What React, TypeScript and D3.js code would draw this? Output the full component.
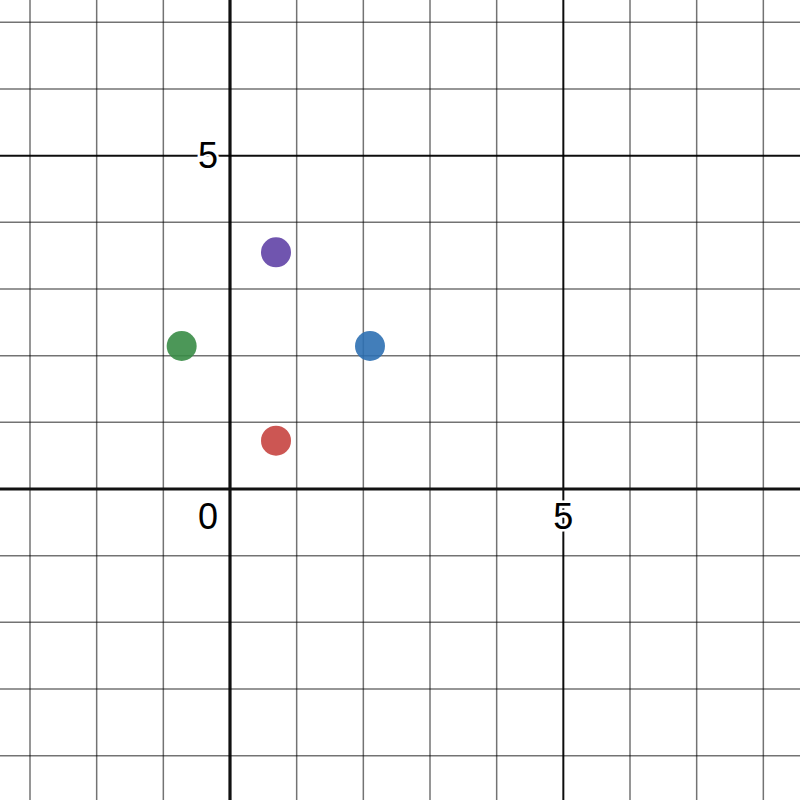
import React from 'react';
import * as d3 from 'd3';

// points
const pointNames = ['purple', 'green', 'blue', 'red'];
const pointX = [0.69, -0.725, 2.1, 0.69];
const pointY = [3.55, 2.145, 2.145, 0.725];
const pointColors = ['#6042a6', '#388c46', '#2d70b3', '#c74440'];

// grid and labels
const gridX = d3.range(-3, 9);
const gridY = d3.range(-4, 8);
const xLabels = [5];
const yLabels = [5];

const W = 800;
const H = 800;

export default function App() {
  const x = d3.scaleLinear().domain([-3.45, 8.55]).range([0, W]);
  const y = d3.scaleLinear().domain([-4.665, 7.335]).range([H, 0]);

  const lineStyle = (v: number) =>
    v === 0
      ? { stroke: '#111', strokeWidth: 3.2, strokeOpacity: 1 }
      : v % 5 === 0
      ? { stroke: '#000', strokeWidth: 2, strokeOpacity: 0.95 }
      : { stroke: '#000', strokeWidth: 1.5, strokeOpacity: 0.55 };

  const labelProps = {
    fontFamily: 'Liberation Sans, Arial, sans-serif',
    fontSize: 36,
    fill: '#000',
    stroke: '#fff',
    strokeWidth: 5,
    paintOrder: 'stroke',
    textAnchor: 'middle' as const,
    dominantBaseline: 'central' as const,
  };

  // draw axes last so they sit on top of the grid
  const order = (vals: number[]) => [...vals.filter(v => v !== 0), ...vals.filter(v => v === 0)];

  return (
    <svg
      width={W}
      height={H}
      style={{ position: 'absolute', left: 0, top: 0, background: '#fff' }}
    >
      <rect width={W} height={H} fill="#fff" />
      {order(gridX).map(v => (
        <line key={'gx' + v} x1={x(v)} x2={x(v)} y1={0} y2={H} {...lineStyle(v)} />
      ))}
      {order(gridY).map(v => (
        <line key={'gy' + v} x1={0} x2={W} y1={y(v)} y2={y(v)} {...lineStyle(v)} />
      ))}

      <text x={x(0) - 22} y={y(0) + 27} {...labelProps}>0</text>
      {xLabels.map(v => (
        <text key={'xl' + v} x={x(v)} y={y(0) + 27} {...labelProps}>{v}</text>
      ))}
      {yLabels.map(v => (
        <text key={'yl' + v} x={x(0) - 22} y={y(v)} {...labelProps}>{v}</text>
      ))}

      {pointNames.map((n, i) => (
        <circle
          key={n}
          cx={x(pointX[i])}
          cy={y(pointY[i])}
          r={15}
          fill={pointColors[i]}
          fillOpacity={0.9}
        />
      ))}
    </svg>
  );
}
